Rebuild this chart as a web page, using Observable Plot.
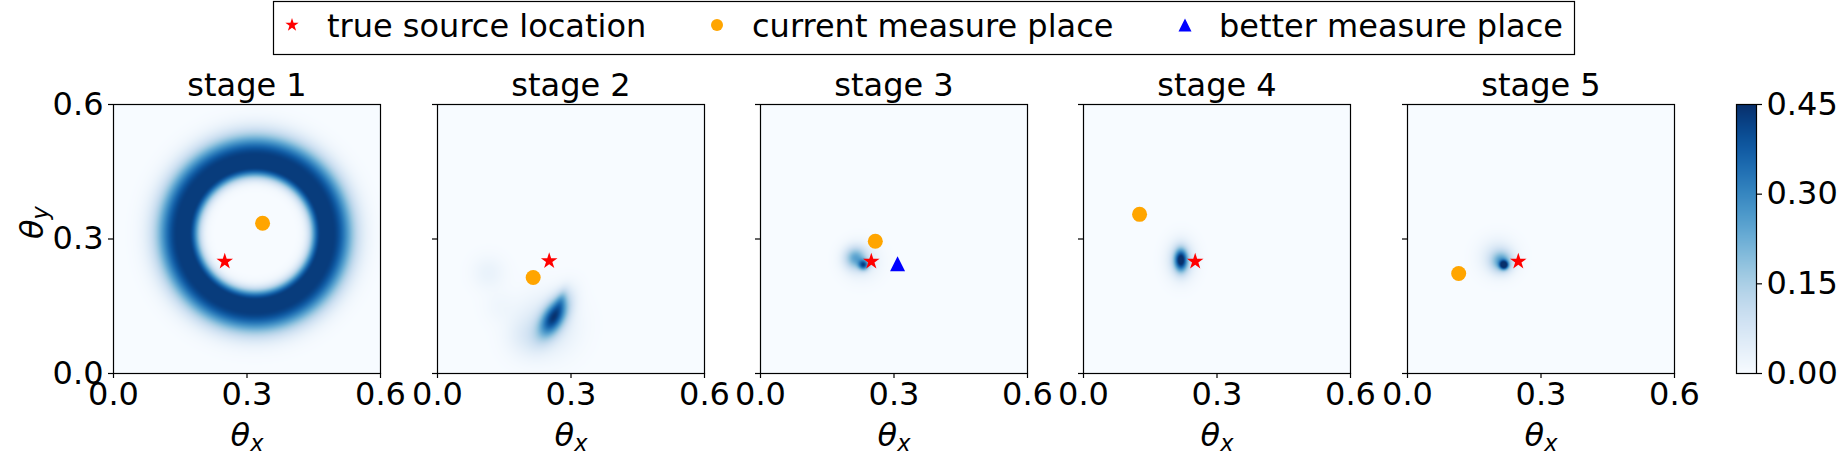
<!DOCTYPE html>
<html><head><meta charset="utf-8">
<script src="https://cdn.jsdelivr.net/npm/d3@7"></script>
<script src="https://cdn.jsdelivr.net/npm/@observablehq/plot@0.6"></script>
<style>
html,body{margin:0;padding:0;background:#fff;}
#fig{position:relative;width:1845px;height:463px;overflow:hidden;font-family:"DejaVu Sans",sans-serif;}
#fig svg{overflow:visible;position:absolute;}
</style></head><body><div id="fig"></div>
<script>
// ---------------- data ----------------
const stages = ["stage 1", "stage 2", "stage 3", "stage 4", "stage 5"];
const axisTicks = [0, 0.3, 0.6];
const colorTicks = [0, 0.15, 0.30, 0.45];
const colorMax = 0.45;
const legendLabels = ["true source location", "current measure place", "better measure place"];

// true source location (red star)
const sourceX = [0.250, 0.251, 0.249, 0.251, 0.249];
const sourceY = [0.250, 0.251, 0.250, 0.250, 0.250];
// current measure place (orange dot)
const measureX = [0.335, 0.215, 0.258, 0.126, 0.115];
const measureY = [0.335, 0.214, 0.295, 0.355, 0.223];
// better measure place (blue triangle)
const betterStage = ["stage 3"];
const betterX = [0.308];
const betterY = [0.245];

// posterior density, ring-shaped component(s)
const ringStage = ["stage 1"];
const ringCX = [0.318];
const ringCY = [0.312];
const ringR = [0.161];
const ringHalf = [0.013];
const ringSoftIn = [0.016];
const ringSoftOut = [0.034];
const ringAmp = [0.43];

// posterior density, gaussian blob components
const blobStage = ["stage 2", "stage 2", "stage 2", "stage 2", "stage 2", "stage 2",
                   "stage 3", "stage 3", "stage 3",
                   "stage 4", "stage 4",
                   "stage 5", "stage 5", "stage 5"];
const blobX     = [0.262, 0.245, 0.115, 0.140, 0.200, 0.278,  0.213, 0.232, 0.228,  0.219, 0.219,  0.217, 0.212, 0.203];
const blobY     = [0.127, 0.108, 0.225, 0.150, 0.080, 0.165,  0.258, 0.242, 0.250,  0.253, 0.253,  0.242, 0.249, 0.259];
const blobMajor = [0.034, 0.044, 0.025, 0.025, 0.030, 0.018,  0.017, 0.008, 0.026,  0.017, 0.028,  0.0065, 0.016, 0.026];
const blobMinor = [0.017, 0.044, 0.025, 0.025, 0.030, 0.008,  0.017, 0.008, 0.026,  0.010, 0.020,  0.0065, 0.016, 0.026];
const blobAngle = [60, 0, 0, 0, 0, 70,  0, 0, 0,  90, 90,  0, 0, 0];
const blobAmp   = [0.38, 0.07, 0.03, 0.015, 0.035, 0.08,  0.20, 0.30, 0.06,  0.38, 0.13,  0.42, 0.20, 0.08];

// ---------------- build tables ----------------
const sourceRows = stages.map((s, i) => ({stage: s, x: sourceX[i], y: sourceY[i]}));
const measureRows = stages.map((s, i) => ({stage: s, x: measureX[i], y: measureY[i]}));
const betterRows = betterStage.map((s, i) => ({stage: s, x: betterX[i], y: betterY[i]}));
const rings = ringStage.map((s, i) => ({stage: s, cx: ringCX[i], cy: ringCY[i], r: ringR[i], h: ringHalf[i],
  wi: ringSoftIn[i], wo: ringSoftOut[i], a: ringAmp[i]}));
const blobs = blobStage.map((s, i) => {
  const t = blobAngle[i] * Math.PI / 180;
  return {stage: s, cx: blobX[i], cy: blobY[i], su: blobMajor[i], sv: blobMinor[i], c: Math.cos(t), s: Math.sin(t), a: blobAmp[i]};
});

function density(stage) {
  const R = rings.filter(d => d.stage === stage);
  const B = blobs.filter(d => d.stage === stage);
  return (x, y) => {
    let v = 0;
    for (const g of R) {
      const off = Math.hypot(x - g.cx, y - g.cy) - g.r;
      const d = Math.max(0, Math.abs(off) - g.h) / (off > 0 ? g.wo : g.wi);
      v += g.a * Math.exp(-0.5 * d * d);
    }
    for (const g of B) {
      const dx = x - g.cx, dy = y - g.cy;
      const u = (dx * g.c + dy * g.s) / g.su;
      const w = (-dx * g.s + dy * g.c) / g.sv;
      v += g.a * Math.exp(-0.5 * (u * u + w * w));
    }
    return v;
  };
}

// matplotlib-like "^" triangle
const triangleUp = {
  draw(context, size) {
    const s = Math.sqrt(size / Math.PI);
    context.moveTo(0, -s);
    context.lineTo(s, s);
    context.lineTo(-s, s);
    context.closePath();
  }
};

// ---------------- layout ----------------
const fig = document.getElementById("fig");
const W = 267, H = 269, TOP = 104;
const frameLeft = [113, 437, 760, 1083, 1407];
const FS = 32;
const colorOpts = {type: "linear", scheme: "blues", domain: [0, colorMax], clamp: true};
const ns = "http://www.w3.org/2000/svg";

function mathLabels(svg) {
  svg.querySelectorAll("text").forEach(t => {
    const s = t.textContent;
    if (s === "θx" || s === "θy") {
      t.textContent = "";
      const a = document.createElementNS(ns, "tspan");
      a.setAttribute("font-style", "italic");
      a.textContent = "θ";
      const b = document.createElementNS(ns, "tspan");
      b.setAttribute("font-style", "italic");
      b.setAttribute("font-size", "0.7em");
      b.setAttribute("dy", "0.25em");
      b.textContent = s[1];
      t.append(a, b);
    }
  });
}

function heatMark(stage) {
  const f = density(stage);
  if (Plot.raster) {
    return Plot.raster({fill: f, x1: 0, y1: 0, x2: 0.6, y2: 0.6});
  }
  const n = 120, step = 0.6 / n, cells = [];
  for (let i = 0; i < n; i++) for (let j = 0; j < n; j++) {
    cells.push({x1: i * step, x2: (i + 1) * step, y1: j * step, y2: (j + 1) * step, v: f((i + 0.5) * step, (j + 0.5) * step)});
  }
  return Plot.rect(cells, {x1: "x1", x2: "x2", y1: "y1", y2: "y2", fill: "v"});
}

stages.forEach((st, i) => {
  const first = i === 0;
  const ML = first ? 120 : 40, MR = 40, MT = 50, MB = 90;
  const svg = Plot.plot({
    width: ML + W + MR,
    height: MT + H + MB,
    marginLeft: ML, marginRight: MR, marginTop: MT, marginBottom: MB,
    x: {domain: [0, 0.6], label: null},
    y: {domain: [0, 0.6], label: null},
    color: colorOpts,
    style: {fontFamily: "DejaVu Sans", fontSize: FS + "px", color: "black", background: "transparent", overflow: "visible"},
    marks: [
      heatMark(st),
      Plot.frame({stroke: "black", strokeWidth: 1.2}),
      Plot.axisX({ticks: axisTicks, tickFormat: d3.format(".1f"), tickSize: 5, tickPadding: 4, strokeWidth: 1.2, fontSize: FS, label: null}),
      Plot.axisY({ticks: axisTicks, tickFormat: first ? d3.format(".1f") : () => "", tickSize: 5, tickPadding: 5, strokeWidth: 1.2, fontSize: FS, label: null}),
      Plot.text([st], {frameAnchor: "top", lineAnchor: "middle", dy: -19, fontSize: FS}),
      Plot.text(["θx"], {frameAnchor: "bottom", lineAnchor: "middle", dy: 62, fontSize: FS}),
      first ? Plot.text(["θy"], {frameAnchor: "left", lineAnchor: "middle", dx: -81, rotate: -90, fontSize: FS}) : null,
      Plot.dot(sourceRows.filter(d => d.stage === st), {x: "x", y: "y", symbol: "star", r: 5.2, fill: "red", stroke: "none"}),
      Plot.dot(measureRows.filter(d => d.stage === st), {x: "x", y: "y", symbol: "circle", r: 7.5, fill: "orange", stroke: "none"}),
      Plot.dot(betterRows.filter(d => d.stage === st), {x: "x", y: "y", symbol: triangleUp, r: 7.5, fill: "blue", stroke: "none"})
    ]
  });
  svg.style.left = (frameLeft[i] - ML) + "px";
  svg.style.top = (TOP - MT) + "px";
  mathLabels(svg);
  fig.appendChild(svg);
});

// ---------------- colorbar ----------------
{
  const CL = 1736, CW = 20, ML = 10, MR = 110, MT = 50, MB = 90;
  const svg = Plot.plot({
    width: ML + CW + MR,
    height: MT + H + MB,
    marginLeft: ML, marginRight: MR, marginTop: MT, marginBottom: MB,
    x: {domain: [0, 1], axis: null},
    y: {domain: [0, colorMax], label: null},
    color: colorOpts,
    style: {fontFamily: "DejaVu Sans", fontSize: FS + "px", color: "black", background: "transparent", overflow: "visible"},
    marks: [
      Plot.raster ? Plot.raster({fill: (x, y) => y, x1: 0, x2: 1, y1: 0, y2: colorMax})
                  : Plot.rect(d3.range(0, colorMax, colorMax / 200), {x1: 0, x2: 1, y1: d => d, y2: d => d + colorMax / 200, fill: d => d}),
      Plot.frame({stroke: "black", strokeWidth: 1.2}),
      Plot.axisY({anchor: "right", ticks: colorTicks, tickFormat: d3.format(".2f"), tickSize: 5, tickPadding: 5, strokeWidth: 1.2, fontSize: FS, label: null})
    ]
  });
  svg.style.left = (CL - ML) + "px";
  svg.style.top = (TOP - MT) + "px";
  fig.appendChild(svg);
}

// ---------------- legend ----------------
{
  const LX = 273, LY = 1, LW = 1301, LH = 53;
  const svg = d3.create("svg").attr("width", LW + 2).attr("height", LH + 2)
    .style("left", LX + "px").style("top", LY + "px")
    .attr("font-family", "DejaVu Sans").attr("font-size", FS);
  svg.append("rect").attr("x", 0.5).attr("y", 0.5).attr("width", LW).attr("height", LH)
    .attr("fill", "white").attr("stroke", "black").attr("stroke-width", 1.2);
  const items = [
    {sym: d3.symbolStar, size: Math.PI * 4.2 * 4.2, fill: "red", mx: 19, tx: 54},
    {sym: d3.symbolCircle, size: Math.PI * 6 * 6, fill: "orange", mx: 444, tx: 479},
    {sym: triangleUp, size: Math.PI * 6.5 * 6.5, fill: "blue", mx: 912, tx: 946}
  ];
  items.forEach((it, k) => {
    svg.append("path").attr("d", d3.symbol(it.sym, it.size)()).attr("fill", it.fill)
      .attr("transform", `translate(${it.mx},${24})`);
    svg.append("text").attr("x", it.tx).attr("y", 36).attr("fill", "black").text(legendLabels[k]);
  });
  fig.appendChild(svg.node());
}
</script></body></html>
